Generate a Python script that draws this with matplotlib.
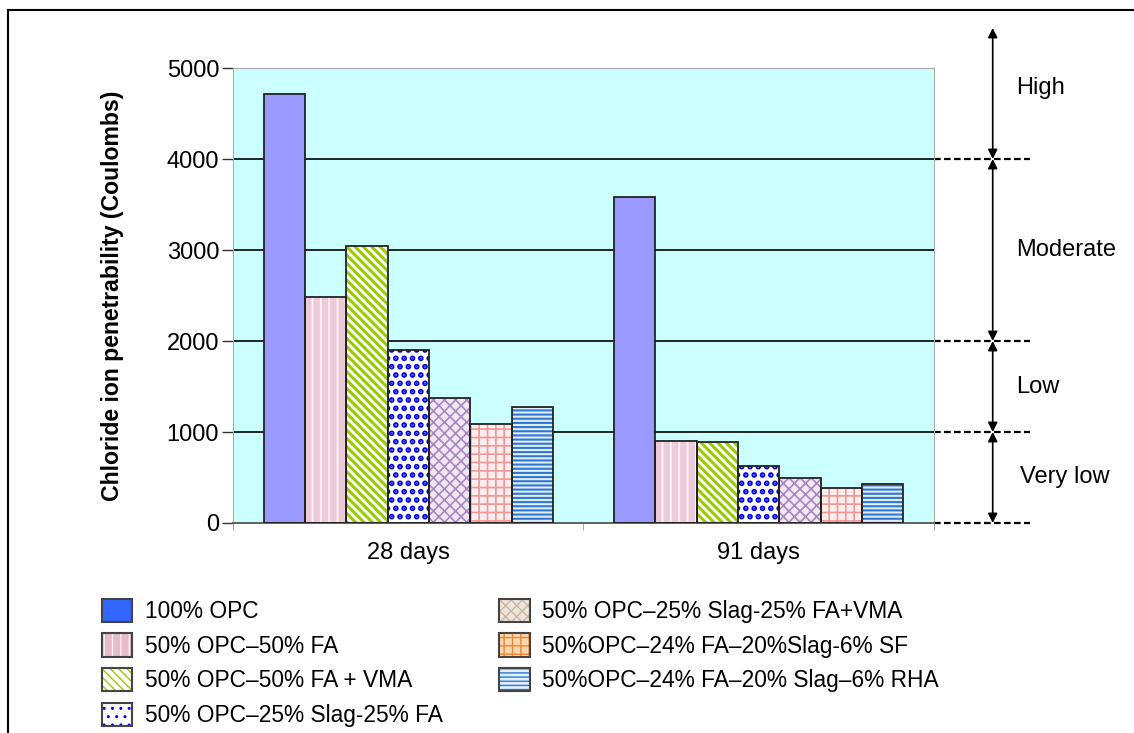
import matplotlib
matplotlib.use("Agg")
import matplotlib.pyplot as plt
import numpy as np
from matplotlib.patches import Patch
from matplotlib.lines import Line2D
from matplotlib.legend_handler import HandlerTuple

plt.rcParams['font.family'] = ['Liberation Sans', 'DejaVu Sans']

# data
ages = ['28 days', '91 days']
mixes = ['100% OPC',
         '50% OPC\u201350% FA',
         '50% OPC\u201350% FA + VMA',
         '50% OPC\u201325% Slag-25% FA',
         '50% OPC\u201325% Slag-25% FA+VMA',
         '50%OPC\u201324% FA\u201320%Slag-6% SF',
         '50%OPC\u201324% FA\u201320% Slag\u20136% RHA']
charge = [[4720, 3580],
          [2480, 900],
          [3040, 890],
          [1900, 630],
          [1370, 490],
          [1090, 380],
          [1270, 430]]
yticks = [0, 1000, 2000, 3000, 4000, 5000]
classes = ['High', 'Moderate', 'Low', 'Very low']
class_bounds = [4000, 2000, 1000, 0]

# styles: (face, hatch, hatch colour, hatch lw)
bar_styles = [('#9999FF', '', '#9999FF', 1.0),
              ('#ECCAD8', '||', '#F8EEF3', 1.5),
              ('#FFFFFF', '\\\\\\\\', '#99CC00', 2.2),
              ('#FFFFFF', '..', '#0000F0', 2.8),
              ('#F3E6F3', 'xxx', '#A888C0', 1.2),
              ('#FFECEC', '++', '#F09898', 1.2),
              ('#DDEEFF', '----', '#3377CC', 1.5)]
leg_styles = [('#3366FF', '', '#3366FF', 1.0),
              ('#E6BCCB', '||', '#F8EEF3', 1.5),
              ('#FFFFFF', '\\\\\\\\', '#99CC00', 2.2),
              ('#FFFFFF', '..', '#0000F0', 2.8),
              ('#EFE4DA', 'xxx', '#C8B8A8', 1.2),
              ('#FFD8B0', '++', '#F08838', 1.2),
              ('#DDEEFF', '----', '#3377CC', 1.5)]

fs = 17
leg_fs = 16.4

fig = plt.figure(figsize=(11.34, 7.33), dpi=100)
ax = fig.add_axes([0.2055, 0.2865, 0.618, 0.6207])
ax.set_facecolor('#CCFFFF')

x = np.arange(len(ages))
w = 0.118
for i, vals in enumerate(charge):
    fc, h, hc, hlw = bar_styles[i]
    pos = x + (i - 3) * w
    with plt.rc_context({'hatch.linewidth': hlw}):
        ax.bar(pos, vals, w, color=fc, hatch=h, edgecolor=hc, linewidth=0, zorder=2)
    ax.bar(pos, vals, w, fill=False, edgecolor='#222222', linewidth=1.3, zorder=3)

ax.set_xlim(-0.5, 1.5)
ax.set_ylim(0, 5000)
ax.set_yticks(yticks)
ax.set_yticklabels([str(t) for t in yticks], fontsize=fs)
ax.set_xticks(x)
ax.set_xticklabels(ages, fontsize=fs)
ax.set_xticks([-0.5, 0.5, 1.5], minor=True)
ax.tick_params(axis='x', which='major', length=0, pad=14)
ax.tick_params(axis='x', which='minor', length=5, color='#999999')
ax.tick_params(axis='y', length=8, width=1, color='#333333', pad=2)
for t in yticks[1:-1]:
    ax.axhline(t, color='black', lw=1.2, zorder=1)
for s in ['top', 'right', 'left']:
    ax.spines[s].set_color('#AAAAAA')
ax.spines['bottom'].set_color('#555555')
ax.spines['bottom'].set_linewidth(1.3)
ax.set_ylabel('Chloride ion penetrability (Coulombs)', fontsize=16.6,
              fontweight='bold', labelpad=31)

# classification scale on the right
trans = ax.get_yaxis_transform()
for b in class_bounds:
    ax.plot([1.0, 1.137], [b, b], transform=trans, color='black', lw=1.6,
            ls=(0, (3, 1.5)), clip_on=False)
arrow_top = [5440, 4000, 2000, 1000]
for top, bot, name in zip(arrow_top, class_bounds, classes):
    ax.annotate('', xy=(1.084, bot), xytext=(1.084, top),
                xycoords=trans, textcoords=trans,
                arrowprops=dict(arrowstyle='<|-|>', color='black', lw=1.2,
                                mutation_scale=14, shrinkA=0, shrinkB=0))
    mid = (top + bot) / 2
    if name == 'High':
        mid = 4780
    xt = 1.123 if name == 'Very low' else 1.117
    ax.text(xt, mid, name, transform=trans, fontsize=fs, va='center', ha='left')

# legend
handles = []
for fc, h, hc, hlw in leg_styles:
    with plt.rc_context({'hatch.linewidth': hlw}):
        p1 = Patch(facecolor=fc, hatch=h, edgecolor=hc, linewidth=0)
    p2 = Patch(fill=False, edgecolor='#444444', linewidth=1.5)
    handles.append((p1, p2))
fig.legend(handles, mixes, loc='upper left', bbox_to_anchor=(0.09, 0.183),
           ncol=2, frameon=False, fontsize=leg_fs, handlelength=1.32,
           handleheight=1.2, labelspacing=0.45, columnspacing=2.5,
           handletextpad=0.55, borderaxespad=0, borderpad=0,
           handler_map={tuple: HandlerTuple(ndivide=1)})

# outer frame
fig.add_artist(Line2D([0.007, 1.0], [0.9864, 0.9864], color='black', lw=1.5))
fig.add_artist(Line2D([0.007, 0.007], [0.0, 0.9864], color='black', lw=1.5))

fig.savefig('out.png', dpi=100)
